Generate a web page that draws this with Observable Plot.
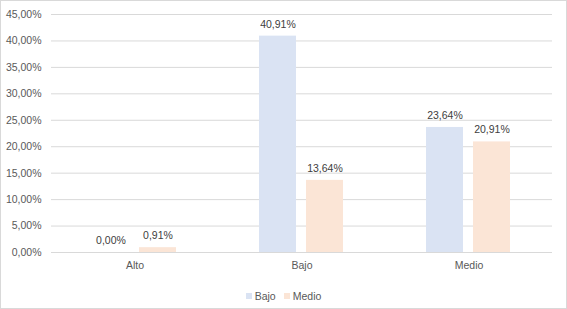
<!DOCTYPE html>
<html>
<head>
<meta charset="utf-8">
<script src="https://cdn.jsdelivr.net/npm/d3@7"></script>
<script src="https://cdn.jsdelivr.net/npm/@observablehq/plot@0.6"></script>
<style>
  html, body { margin: 0; padding: 0; background: #fff; }
  #frame { box-sizing: border-box; width: 567px; height: 309px; border: 1px solid #d9d9d9; background: #fff; overflow: hidden; }
  #legend { height: 32px; box-sizing: border-box; padding-top: 8px; display: flex; justify-content: center; align-items: center; font-family: "Liberation Sans", Arial, sans-serif; font-size: 10.5px; color: #595959; }
  #legend .item { display: flex; align-items: center; height: 12px; margin: 0 4px; }
  #legend .sw { width: 6px; height: 6px; margin-right: 3px; }
</style>
</head>
<body>
<div id="frame"><div id="chart"></div><div id="legend"></div></div>
<script>
const categories = ["Alto", "Bajo", "Medio"];
const series = ["Bajo", "Medio"];
const bajoValues = [0.00, 40.91, 23.64];
const medioValues = [0.91, 13.64, 20.91];
const yTicks = [0, 5, 10, 15, 20, 25, 30, 35, 40, 45];
const colors = ["#dae3f3", "#fbe5d6"];

const data = categories.flatMap((c, i) => [
  {cat: c, serie: series[0], value: bajoValues[i]},
  {cat: c, serie: series[1], value: medioValues[i]}
]);
const fmt = v => v.toFixed(2).replace(".", ",") + "%";

const chart = Plot.plot({
  width: 565,
  height: 275,
  marginLeft: 50,
  marginRight: 14,
  marginTop: 13,
  marginBottom: 24,
  style: {fontFamily: "'Liberation Sans', Arial, sans-serif", fontSize: "10.5px", color: "#595959", background: "#fff"},
  fx: {domain: categories, paddingInner: 0, paddingOuter: 0, label: null, tickSize: 0, tickPadding: 9},
  x: {domain: series, paddingInner: 0.21, paddingOuter: 0.87, axis: null},
  y: {domain: [0, 45], ticks: yTicks, tickFormat: fmt, label: null, tickSize: 0, tickPadding: 10},
  color: {domain: series, range: colors},
  marks: [
    Plot.gridY(yTicks, {stroke: "#d9d9d9", strokeOpacity: 1}),
    Plot.barY(data, {fx: "cat", x: "serie", y: "value", fill: "serie"}),
    Plot.text(data, {fx: "cat", x: "serie", y: "value", text: d => fmt(d.value), dy: -12, fill: "#404040"})
  ]
});
document.getElementById("chart").appendChild(chart);

const legend = document.getElementById("legend");
series.forEach((s, i) => {
  const item = document.createElement("div");
  item.className = "item";
  const sw = document.createElement("span");
  sw.className = "sw";
  sw.style.background = colors[i];
  const t = document.createElement("span");
  t.textContent = s;
  item.appendChild(sw);
  item.appendChild(t);
  legend.appendChild(item);
});
</script>
</body>
</html>
